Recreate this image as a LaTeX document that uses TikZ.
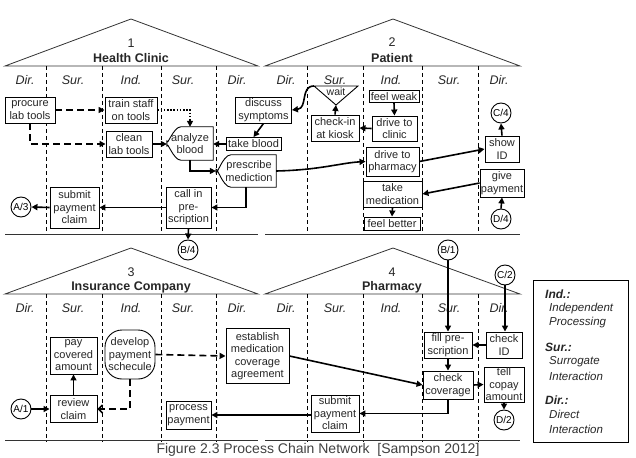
\documentclass[tikz,border=0pt]{standalone}
\usepackage{fontspec}
\setmainfont{Liberation Sans}
\usetikzlibrary{arrows.meta,calc}
\begin{document}
\begin{tikzpicture}[x=1pt,y=-1pt,
  txt/.style={font=\fontsize{11}{12.5}\selectfont, align=center, inner sep=0pt, text=black!85},
  box/.style={txt, draw, line width=0.9pt, fill=white},
  shp/.style={line width=0.9pt},
  cir/.style={draw, circle, line width=0.9pt, fill=white, minimum size=20pt, inner sep=0pt, font=\fontsize{10}{10}\selectfont},
  col/.style={font=\itshape\fontsize{12.5}{13}\selectfont, inner sep=0pt, text=black!85},
  ttl/.style={font=\bfseries\fontsize{12.5}{13}\selectfont, inner sep=0pt, text=black!85},
  num/.style={font=\fontsize{12.5}{13}\selectfont, inner sep=0pt, text=black!85},
  roof/.style={line width=0.8pt, draw=black!80},
  divA/.style={dash pattern=on 4pt off 3pt, line width=0.6pt},
  divB/.style={dash pattern=on 4pt off 3pt, line width=1pt},
  arr/.style={line width=1.6pt, -{Triangle[length=6pt,width=6pt]}},
  darr/.style={arr, dash pattern=on 7pt off 4pt},
  oarr/.style={line width=1.6pt, dash pattern=on 7pt off 4pt, -{Straight Barb[length=4pt,width=8pt]}},
  dotarr/.style={arr, dash pattern=on 1.6pt off 1.6pt},
  leg/.style={font=\bfseries\itshape\fontsize{12}{13}\selectfont, inner sep=0pt, anchor=west, text=black!85},
  legt/.style={font=\itshape\fontsize{11.5}{13}\selectfont, inner sep=0pt, anchor=west, text=black!85},
]
\useasboundingbox (0,0) rectangle (636,457);

% ---------- houses ----------
\draw[roof] (5,66) -- (131,19) -- (258,66) -- cycle;
\draw[roof] (5,234) -- (258,234);
\foreach \x/\s in {46/divA,102/divB,161/divA,216/divB} \draw[\s] (\x,66) -- (\x,234);
\node[num] (n1) at (131,43) {1};
\node[ttl] (t1) at (131,58.5) {Health Clinic};

\draw[roof] (265,66) -- (393,19) -- (520,66) -- cycle;
\draw[roof] (265,234) -- (520,234);
\foreach \x/\s in {307/divA,363/divB,422/divA,478/divB} \draw[\s] (\x,66) -- (\x,234);
\node[num] (n2) at (392,42) {2};
\node[ttl] (t2) at (392,58) {Patient};

\draw[roof] (5,294) -- (131,248) -- (258,294) -- cycle;
\draw[roof] (5,440) -- (258,440);
\foreach \x/\s in {46/divA,102/divB,161/divA,216/divB} \draw[\s] (\x,294) -- (\x,442);
\node[num] (n3) at (131,272) {3};
\node[ttl] (t3) at (131,287) {Insurance Company};

\draw[roof] (265,294) -- (393,248) -- (520,294) -- cycle;
\draw[roof] (265,440) -- (520,440);
\foreach \x/\s in {307/divA,363/divB,422/divA,478/divB} \draw[\s] (\x,294) -- (\x,442);
\node[num] (n4) at (392,272) {4};
\node[ttl] (t4) at (392,287) {Pharmacy};

% column labels
\foreach \y/\k in {80/a,308/b}{
  \node[col] (c1\k) at (25,\y) {Dir.};
  \node[col] (c2\k) at (73,\y) {Sur.};
  \node[col] (c3\k) at (131,\y) {Ind.};
  \node[col] (c4\k) at (183,\y) {Sur.};
  \node[col] (c5\k) at (237,\y) {Dir.};
  \node[col] (c6\k) at (286,\y) {Dir.};
  \node[col] (c7\k) at (335,\y) {Sur.};
  \node[col] (c8\k) at (391,\y) {Ind.};
  \node[col] (c9\k) at (449,\y) {Sur.};
  \node[col] (c0\k) at (499,\y) {Dir.};
}

% ---------- Health Clinic ----------
\node[box, minimum width=50, minimum height=26] (procure) at (30,110) {procure\\lab tools};
\node[box, minimum width=52, minimum height=26] (train) at (131,110) {train staff\\on tools};
\node[box, minimum width=46, minimum height=26] (clean) at (129,144) {clean\\lab tools};
\node[txt, minimum width=46, minimum height=33] (ab) at (190,143.5) {analyze\\blood};
\draw[shp] (ab.north east) -- ($(ab.north west)+(14,0)$) to[out=180,in=-90] ($(ab.west)+(0,-3)$)
  -- ($(ab.west)+(0,3)$) to[out=90,in=180] ($(ab.south west)+(14,0)$) -- (ab.south east) -- cycle;
\node[box, minimum width=55, minimum height=13] (tb) at (253.5,144) {take blood};
\node[box, minimum width=56, minimum height=26] (disc) at (263.5,110) {discuss\\symptoms};
\node[txt, minimum width=60, minimum height=32] (pm) at (246,171) {\hspace*{6pt}prescribe\\\hspace*{6pt}mediction};
\draw[shp] (pm.north east) -- ($(pm.north west)+(15,0)$) to[out=180,in=-90] (pm.west)
  to[out=90,in=180] ($(pm.south west)+(15,0)$) -- (pm.south east) -- cycle;
\node[box, minimum width=45, minimum height=41] (callin) at (188.5,207.5) {call in\\pre-\\scription};
\node[box, minimum width=49, minimum height=41] (sub1) at (74.5,207.5) {submit\\payment\\claim};
\node[cir] (A3) at (21,207) {A/3};
\node[cir] (B4) at (188,250) {B/4};

\draw[darr] (procure.east) -- (train.west);
\draw[darr] (procure.south) |- (clean.west);
\draw[dotarr] (train.east) -| (ab.north);
\draw[arr] (clean.east) -- (ab.west |- clean.east);
\draw[arr] (tb.west) -- (ab.east |- tb.west);
\draw[arr] (disc.south) -- (tb.north);
\draw[arr] (ab.south) |- (pm.west);
\draw[arr] (pm.south) |- (callin.east);
\draw[arr] (callin.west) -- (sub1.east);
\draw[arr] (sub1.west) -- (A3.east);
\draw[arr] (callin.south) -- (B4.north);

% ---------- Patient ----------
\coordinate (wl) at (314,86);
\coordinate (wr) at (358,86);
\coordinate (wa) at (336,105);
\draw[shp, fill=white] (wl) -- (wr) -- (wa) -- cycle;
\node[txt, font=\fontsize{10.5}{11}\selectfont] (wait) at (336,91.5) {wait};
\node[box, minimum width=48, minimum height=26] (chk) at (335,128) {check-in\\at kiosk};
\node[box, minimum width=50, minimum height=12] (fw) at (394,96.5) {feel weak};
\node[box, minimum width=45, minimum height=25] (dc) at (394.5,128.5) {drive to\\clinic};
\node[box, minimum width=53, minimum height=29] (dp) at (392.5,161.5) {drive to\\pharmacy};
\node[box, minimum width=34, minimum height=26] (sid) at (502,149) {show\\ID};
\node[cir] (C4) at (501,113) {C/4};
\node[box, minimum width=44, minimum height=28] (gp) at (502,183) {give\\payment};
\node[cir] (D4) at (501,219) {D/4};
\node[box, minimum width=59, minimum height=26] (tm) at (392.5,194) {take\\medication};
\node[box, minimum width=56, minimum height=13] (fb) at (392,223.5) {feel better};

\draw[arr] (wl) .. controls (300,86) and (308,108) .. (disc.east);
\draw[arr] (chk.north) -- (wa);
\draw[arr] (fw.south) -- (dc.north);
\draw[arr] (dc.west) -- (chk.east);
\draw[arr] (pm.east) .. controls (320,170) and (340,163) .. (dp.west);
\draw[arr] (dp.east) -- (sid.west);
\draw[arr] (sid.north) -- (C4.south);
\draw[arr] (D4.north) -- (gp.south);
\draw[arr] (gp.west) -- (tm.east);
\draw[arr] (tm.south) -- (fb.north);

% ---------- Insurance Company ----------
\node[box, minimum width=47, minimum height=37] (pay) at (73.5,355.5) {pay\\covered\\amount};
\node[box, rounded corners=17, minimum width=50, minimum height=49] (dev) at (130,354.5) {develop\\payment\\schecule};
\node[box, minimum width=47, minimum height=27] (rev) at (73.5,409) {review\\claim};
\node[cir] (A1) at (21,409) {A/1};
\node[box, minimum width=63, minimum height=55] (est) at (257.5,356) {establish\\medication\\coverage\\agreement};
\node[box, minimum width=45, minimum height=28] (proc) at (188.5,415) {process\\payment};

\draw[arr] (A1.east) -- (rev.west);
\draw[arr] (rev.north) -- (pay.south);
\draw[oarr] (dev.south) |- (rev.east);
\draw[darr] (dev.east) -- (est.west);

% ---------- Pharmacy ----------
\node[cir] (B1) at (448,250) {B/1};
\node[cir] (C2) at (505,275) {C/2};
\node[box, minimum width=48, minimum height=26] (fill) at (448,345) {fill pre-\\scription};
\node[box, minimum width=36, minimum height=26] (cid) at (504,345) {check\\ID};
\node[box, minimum width=50, minimum height=28] (cc) at (448,385) {check\\coverage};
\node[box, minimum width=40, minimum height=35] (tell) at (504,384.5) {tell\\copay\\amount};
\node[cir] (D2) at (504,420) {D/2};
\node[box, minimum width=48, minimum height=37] (sub4) at (335,413.5) {submit\\payment\\claim};

\draw[arr] (B1.south) -- (fill.north);
\draw[arr] (C2.south) -- (C2.south |- cid.north);
\draw[arr] (cid.west) -- (fill.east);
\draw[arr] (fill.south) -- (cc.north);
\draw[arr] (cc.east) -- (tell.west);
\draw[arr] (tell.south) -- (D2.north);
\draw[arr] (cc.south) |- (sub4.east);
\draw[arr] (sub4.west) -- (proc.east -| sub4.west) -- (proc.east);
\draw[arr] (est.east) -- (cc.west);

% ---------- legend ----------
\draw[line width=0.9pt] (533,280) rectangle (628,442);
\node[leg] (li) at (545,294) {Ind.:};
\node[legt] (li1) at (549,308.5) {Independent};
\node[legt] (li2) at (549,323) {Processing};
\node[leg] (ls) at (545,347) {Sur.:};
\node[legt] (ls1) at (549,362) {Surrogate};
\node[legt] (ls2) at (549,376) {Interaction};
\node[leg] (ld) at (545,400) {Dir.:};
\node[legt] (ld1) at (549,414) {Direct};
\node[legt] (ld2) at (549,429) {Interaction};

% ---------- caption ----------
\node[font=\fontsize{14}{15}\selectfont, anchor=base, inner sep=0pt, text=black!75] (cap) at (318,453) {Figure 2.3 Process Chain Network \ [Sampson 2012]};
\end{tikzpicture}
\end{document}
